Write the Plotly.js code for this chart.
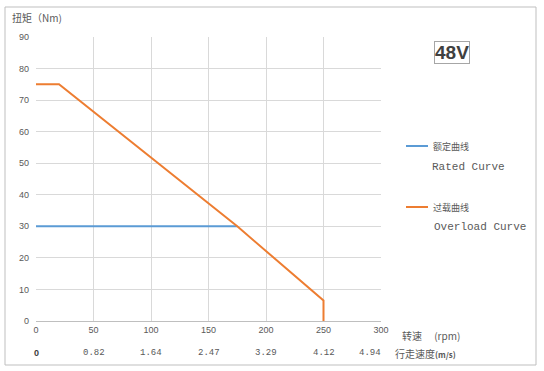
<!DOCTYPE html>
<html><head><meta charset="utf-8">
<script src="https://cdn.plot.ly/plotly-3.0.1.min.js"></script>
<style>body{margin:0;background:#fff}#c{width:544px;height:371px}</style>
</head><body><div id="c"></div>
<script>
const ratedX = [0, 175];
const ratedY = [30, 30];
const overX = [0, 20, 175, 250, 250];
const overY = [75, 75, 30, 6.5, 0];
const rpmTicks = [0, 50, 100, 150, 200, 250, 300];
const speedLabels = ['0', '0.82', '1.64', '2.47', '3.29', '4.12', '4.94'];
const gray = '#595959';
const cjk = '"Noto Sans CJK SC", sans-serif';
const mono = '"Liberation Mono", monospace';

const traces = [
  {x: ratedX, y: ratedY, mode: 'lines', line: {color: '#5B9BD5', width: 2}, name: '额定曲线'},
  {x: overX, y: overY, mode: 'lines', line: {color: '#ED7D31', width: 2}, name: '过载曲线'}
];

const px = v => (v - 36) / 345;
const py = v => (321 - v) / 284;

const ann = [];
speedLabels.forEach((t, i) => {
  ann.push({x: rpmTicks[i], y: 0, xref: 'x', yref: 'paper', yshift: -32, yanchor: 'middle', text: t, showarrow: false,
    xanchor: i === 6 ? 'right' : 'center', xshift: i === 6 ? 2 : 0,
    font: i === 0 ? {family: 'Liberation Sans', size: 9, color: '#404040', weight: 'bold'} : {family: mono, size: 9, color: gray}});
});
ann.push({x: px(10), y: py(18), xref: 'paper', yref: 'paper', text: '扭矩（Nm)', showarrow: false, xanchor: 'left', yanchor: 'middle', font: {family: cjk, size: 10, color: gray}});
ann.push({x: px(400), y: 0, xref: 'paper', yref: 'paper', yshift: -14, text: '转速　 (rpm)', showarrow: false, xanchor: 'left', yanchor: 'middle', font: {family: cjk, size: 10, color: gray}});
ann.push({x: px(393), y: 0, xref: 'paper', yref: 'paper', yshift: -32, text: '行走速度<b><span style="font-size:8px">(m/s)</span></b>', showarrow: false, xanchor: 'left', yanchor: 'middle', font: {family: cjk, size: 10, color: gray}});
ann.push({x: px(452), y: py(52), xref: 'paper', yref: 'paper', text: '<b>48V</b>', showarrow: false, xanchor: 'center', yanchor: 'middle', bordercolor: '#a6a6a6', borderwidth: 1, borderpad: 0, font: {family: 'Liberation Sans', size: 19, color: '#404040'}});
ann.push({x: px(431), y: py(146), xref: 'paper', yref: 'paper', text: '额定曲线', showarrow: false, xanchor: 'left', yanchor: 'middle', font: {family: cjk, size: 9, color: gray}});
ann.push({x: px(430), y: py(167), xref: 'paper', yref: 'paper', text: 'Rated Curve', showarrow: false, xanchor: 'left', yanchor: 'middle', font: {family: mono, size: 11, color: gray}});
ann.push({x: px(431), y: py(207), xref: 'paper', yref: 'paper', text: '过载曲线', showarrow: false, xanchor: 'left', yanchor: 'middle', font: {family: cjk, size: 9, color: gray}});
ann.push({x: px(432), y: py(227), xref: 'paper', yref: 'paper', text: 'Overload Curve', showarrow: false, xanchor: 'left', yanchor: 'middle', font: {family: mono, size: 11, color: gray}});

const shapes = [
  {type: 'rect', xref: 'paper', yref: 'paper', x0: px(5), x1: px(536), y0: py(365), y1: py(7), line: {color: '#bfbfbf', width: 1}},
  {type: 'line', xref: 'paper', yref: 'paper', x0: px(406), x1: px(428), y0: py(146), y1: py(146), line: {color: '#5B9BD5', width: 2}},
  {type: 'line', xref: 'paper', yref: 'paper', x0: px(406), x1: px(428), y0: py(207), y1: py(207), line: {color: '#ED7D31', width: 2}}
];

const layout = {
  width: 544, height: 371,
  margin: {l: 36, r: 163, t: 37, b: 50},
  paper_bgcolor: '#fff', plot_bgcolor: '#fff',
  showlegend: false,
  xaxis: {range: [0, 300], tickvals: rpmTicks, showgrid: true, gridcolor: '#d9d9d9', zeroline: false,
    showline: true, linecolor: '#bfbfbf', linewidth: 1, ticks: '', fixedrange: true,
    tickfont: {family: 'Liberation Sans', size: 9, color: gray}},
  yaxis: {range: [0, 90], dtick: 10, showgrid: true, gridcolor: '#d9d9d9', zeroline: false,
    showline: false, ticks: '', ticklabelstandoff: 6, fixedrange: true,
    tickfont: {family: 'Liberation Sans', size: 9, color: gray}},
  annotations: ann,
  shapes: shapes
};
Plotly.newPlot('c', traces, layout, {staticPlot: true});
</script></body></html>
